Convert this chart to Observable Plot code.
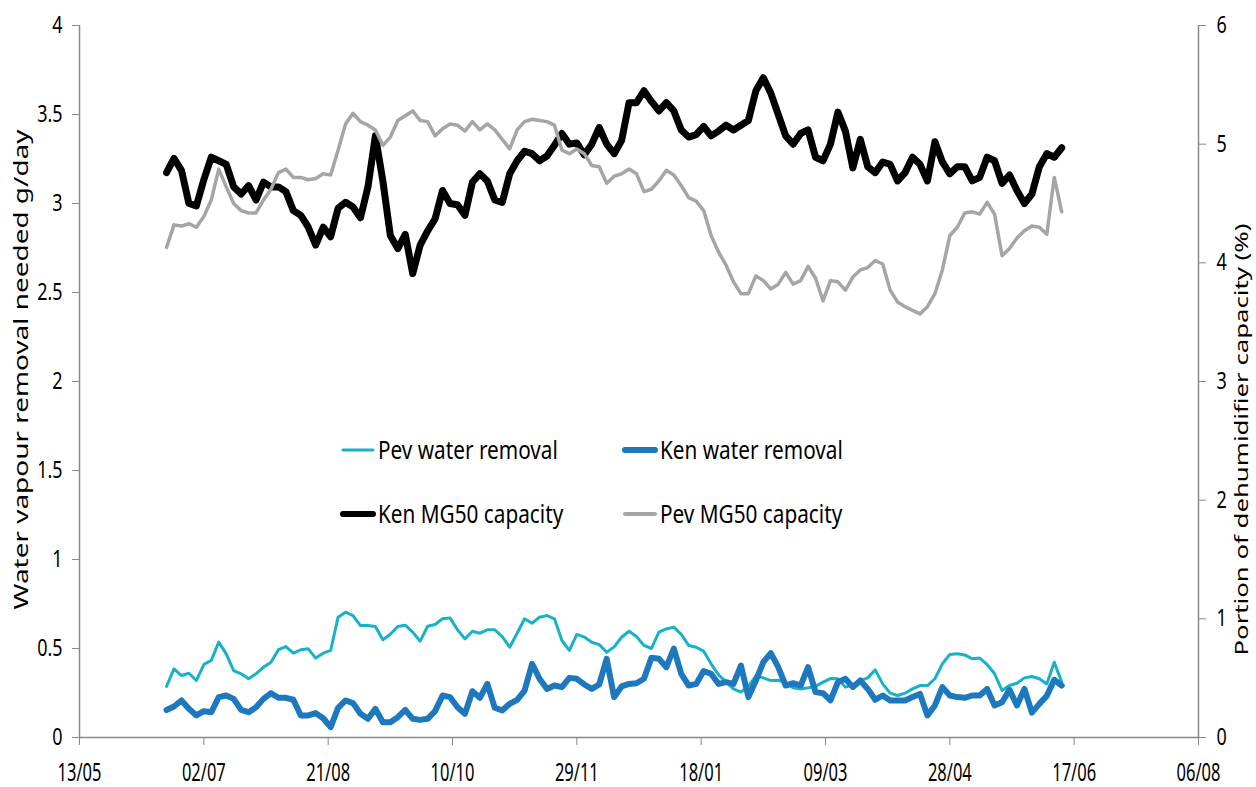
<!DOCTYPE html>
<html>
<head>
<meta charset="utf-8">
<script src="https://cdn.jsdelivr.net/npm/d3@7"></script>
<script src="https://cdn.jsdelivr.net/npm/@observablehq/plot@0.6"></script>
<style>
  html, body { margin: 0; padding: 0; background: #fff; }
  #wrap { position: relative; width: 1256px; height: 787px; overflow: hidden; }
</style>
</head>
<body>
<div id="wrap"></div>
<script>
// ---------- data ----------
const seriesStart = "2013-06-17";   // first sample
const sampleStepDays = 3;           // one sample every 3 days
const axisStart = "2013-05-13";
const axisEnd = "2014-08-06";
const xTickDates = ["2013-05-13","2013-07-02","2013-08-21","2013-10-10","2013-11-29","2014-01-18","2014-03-09","2014-04-28","2014-06-17","2014-08-06"];
const xTickLabels = ["13/05","02/07","21/08","10/10","29/11","18/01","09/03","28/04","17/06","06/08"];
const leftTicks = [0, 0.5, 1, 1.5, 2, 2.5, 3, 3.5, 4];
const rightTicks = [0, 1, 2, 3, 4, 5, 6];
const leftTitle = "Water vapour removal needed g/day";
const rightTitle = "Portion of dehumidifier capacity (%)";
const seriesNames = ["Pev water removal", "Ken water removal", "Ken MG50 capacity", "Pev MG50 capacity"];
const seriesColors = ["#18b1ca", "#1e78be", "#000000", "#a5a5a5"];

// water removal, g/day (left axis)
const pevWater = [0.287,0.386,0.348,0.361,0.320,0.410,0.433,0.536,0.470,0.376,0.358,0.330,0.358,0.395,0.423,0.493,0.511,0.474,0.493,0.498,0.446,0.474,0.489,0.676,0.704,0.685,0.629,0.629,0.624,0.549,0.580,
0.624,0.631,0.592,0.541,0.625,0.635,0.667,0.672,0.605,0.554,0.597,0.586,0.605,0.605,0.567,0.507,0.586,0.667,0.642,0.676,0.685,0.667,0.545,0.489,0.579,0.564,0.535,0.522,0.479,0.509,0.563,
0.597,0.567,0.517,0.500,0.592,0.610,0.620,0.579,0.517,0.507,0.485,0.414,0.352,0.313,0.273,0.255,0.287,0.346,0.335,0.320,0.322,0.305,0.279,0.273,0.279,0.287,0.311,0.331,0.330,0.283,0.296,
0.320,0.335,0.380,0.301,0.249,0.236,0.249,0.273,0.292,0.292,0.330,0.414,0.466,0.470,0.464,0.442,0.446,0.410,0.358,0.264,0.292,0.305,0.335,0.343,0.330,0.301,0.423,0.311];
const kenWater = [0.155,0.174,0.208,0.161,0.124,0.148,0.142,0.227,0.236,0.217,0.155,0.142,0.170,0.217,0.249,0.223,0.223,0.212,0.124,0.124,0.137,0.108,0.058,0.167,0.208,0.193,0.133,0.105,0.161,0.086,0.086,
0.114,0.155,0.105,0.099,0.105,0.148,0.236,0.227,0.170,0.133,0.260,0.223,0.301,0.167,0.152,0.189,0.212,0.264,0.414,0.330,0.273,0.292,0.283,0.335,0.330,0.298,0.273,0.298,0.442,0.227,0.287,
0.301,0.305,0.330,0.448,0.442,0.395,0.500,0.358,0.292,0.301,0.373,0.358,0.301,0.311,0.301,0.404,0.227,0.320,0.423,0.474,0.395,0.292,0.305,0.292,0.395,0.255,0.249,0.208,0.311,0.330,0.283,
0.320,0.273,0.212,0.236,0.208,0.208,0.208,0.227,0.245,0.124,0.180,0.283,0.236,0.227,0.223,0.236,0.236,0.273,0.180,0.198,0.268,0.180,0.273,0.140,0.189,0.234,0.324,0.292];
// capacity, % (right axis)
const kenCap = [4.76,4.88,4.78,4.50,4.48,4.70,4.89,4.86,4.83,4.64,4.58,4.65,4.53,4.68,4.64,4.64,4.60,4.44,4.40,4.30,4.15,4.30,4.22,4.46,4.51,4.47,4.38,4.64,5.07,4.69,4.23,
4.12,4.24,3.91,4.15,4.27,4.37,4.61,4.50,4.49,4.40,4.68,4.75,4.69,4.53,4.51,4.75,4.86,4.94,4.92,4.86,4.90,4.99,5.09,5.00,5.01,4.91,5.00,5.14,5.00,4.92,5.03,
5.35,5.35,5.45,5.36,5.28,5.35,5.28,5.12,5.06,5.08,5.15,5.07,5.11,5.16,5.12,5.16,5.20,5.45,5.56,5.43,5.25,5.07,5.00,5.09,5.12,4.89,4.86,5.00,5.27,5.11,4.80,
5.04,4.81,4.76,4.85,4.83,4.69,4.76,4.89,4.83,4.69,5.02,4.85,4.75,4.81,4.81,4.69,4.72,4.89,4.86,4.67,4.74,4.61,4.50,4.58,4.81,4.92,4.89,4.97];
const pevCap = [4.13,4.32,4.31,4.33,4.30,4.39,4.53,4.79,4.64,4.50,4.44,4.42,4.42,4.53,4.62,4.76,4.79,4.72,4.72,4.70,4.71,4.75,4.74,4.95,5.17,5.26,5.19,5.16,5.12,4.99,5.06,
5.20,5.24,5.28,5.20,5.19,5.07,5.13,5.17,5.16,5.11,5.19,5.12,5.17,5.12,5.04,4.96,5.12,5.19,5.21,5.20,5.19,5.16,4.95,4.92,4.96,4.92,4.82,4.81,4.67,4.73,4.75,
4.79,4.75,4.60,4.62,4.69,4.78,4.74,4.65,4.55,4.52,4.44,4.23,4.09,3.98,3.84,3.74,3.74,3.89,3.85,3.78,3.82,3.92,3.82,3.85,3.97,3.87,3.68,3.85,3.84,3.77,3.88,
3.94,3.96,4.02,3.99,3.77,3.67,3.63,3.60,3.57,3.63,3.74,3.94,4.23,4.30,4.42,4.43,4.41,4.51,4.41,4.06,4.12,4.21,4.27,4.31,4.30,4.24,4.72,4.43];

// ---------- build tables ----------
const parse = d3.utcParse("%Y-%m-%d");
const t0 = parse(seriesStart);
const rightToLeft = 4 / 6; // right axis 0..6 sits on left axis 0..4
const rows = (values, name, scaleFactor) =>
  values.map((v, i) => ({date: d3.utcDay.offset(t0, i * sampleStepDays), v: v * scaleFactor, name}));
const dPevWater = rows(pevWater, seriesNames[0], 1);
const dKenWater = rows(kenWater, seriesNames[1], 1);
const dKenCap = rows(kenCap, seriesNames[2], rightToLeft);
const dPevCap = rows(pevCap, seriesNames[3], rightToLeft);
const tickDates = xTickDates.map(parse);
const tickLabelOf = new Map(tickDates.map((d, i) => [+d, xTickLabels[i]]));

const axisGray = "#898989";
const chart = Plot.plot({
  width: 1256,
  height: 787,
  marginLeft: 79,
  marginRight: 58,
  marginTop: 25,
  marginBottom: 50,
  style: {fontFamily: "'Noto Sans', sans-serif", background: "#fff", color: "#000"},
  x: {type: "utc", domain: [parse(axisStart), parse(axisEnd)]},
  y: {domain: [0, 4]},
  marks: [
    Plot.ruleY([0], {stroke: axisGray, strokeWidth: 1.5}),
    Plot.ruleX([parse(axisStart)], {stroke: axisGray, strokeWidth: 1.5}),
    Plot.ruleX([parse(axisEnd)], {stroke: axisGray, strokeWidth: 1.5}),
    Plot.axisX(tickDates, {tickFormat: d => tickLabelOf.get(+d), tickSize: 8, tickPadding: 18, fontSize: 25, stroke: axisGray, label: null}),
    Plot.axisY(leftTicks, {anchor: "left", tickFormat: d => String(d), tickSize: 7, tickPadding: 10, fontSize: 23, stroke: axisGray, label: null}),
    Plot.axisY(rightTicks.map(v => v * rightToLeft), {anchor: "right", tickFormat: d => String(Math.round(d / rightToLeft)), tickSize: 7, tickPadding: 11, fontSize: 23, stroke: axisGray, label: null}),
    Plot.text([leftTitle], {frameAnchor: "left", textAnchor: "middle", dx: -58, dy: -12, rotate: -90, fontSize: 19, fill: "#000"}),
    Plot.text([rightTitle], {frameAnchor: "right", textAnchor: "middle", dx: 44, dy: 58, rotate: -90, fontSize: 18, fill: "#000"}),
    Plot.line(dPevWater, {x: "date", y: "v", stroke: seriesColors[0], strokeWidth: 3, strokeLinejoin: "round"}),
    Plot.line(dKenWater, {x: "date", y: "v", stroke: seriesColors[1], strokeWidth: 6, strokeLinejoin: "round"}),
    Plot.line(dKenCap, {x: "date", y: "v", stroke: seriesColors[2], strokeWidth: 7, strokeLinejoin: "round"}),
    Plot.line(dPevCap, {x: "date", y: "v", stroke: seriesColors[3], strokeWidth: 3.5, strokeLinejoin: "round"})
  ]
});

const wrap = document.getElementById("wrap");
wrap.append(chart);
const svg = d3.select(chart);

// condensed look of the original text
function condense(sel, f) {
  sel.each(function () {
    const L = this.getComputedTextLength();
    this.setAttribute("textLength", L * f);
    this.setAttribute("lengthAdjust", "spacingAndGlyphs");
  });
}
svg.selectAll('g[aria-label="x-axis tick label"] text').attr("fill", "#000");
svg.selectAll('g[aria-label="y-axis tick label"] text').attr("fill", "#000");
condense(svg.selectAll('g[aria-label="x-axis tick label"] text'), 0.66);
condense(svg.selectAll('g[aria-label="y-axis tick label"] text'), 0.78);
svg.selectAll('g[aria-label="text"] text').each(function () {
  const t = this.textContent;
  this.setAttribute("textLength", t === leftTitle ? 480 : 432);
  this.setAttribute("lengthAdjust", "spacingAndGlyphs");
});

// legend inside the plot area
const legendItems = [
  {i: 0, x: 343, y: 450, w: 3},
  {i: 1, x: 625, y: 450, w: 6},
  {i: 2, x: 343, y: 514, w: 6},
  {i: 3, x: 625, y: 514, w: 4}
];
const lg = svg.append("g").attr("aria-label", "legend").attr("text-anchor", "start");
for (const it of legendItems) {
  lg.append("line").attr("x1", it.x).attr("x2", it.x + 30).attr("y1", it.y).attr("y2", it.y)
    .attr("stroke", seriesColors[it.i]).attr("stroke-width", it.w).attr("stroke-linecap", "round");
  lg.append("text").attr("x", it.x + 35).attr("y", it.y).attr("dy", "0.36em")
    .attr("text-anchor", "start")
    .attr("font-size", 25).attr("font-family", "'Noto Sans', sans-serif").attr("fill", "#000")
    .text(seriesNames[it.i]);
}
condense(lg.selectAll("text"), 0.83);
</script>
</body>
</html>
